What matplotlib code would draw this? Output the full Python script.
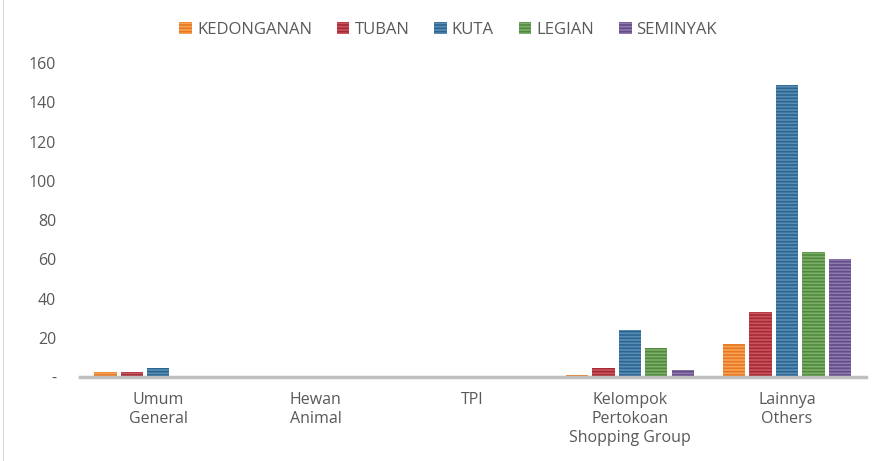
import numpy as np
import matplotlib.pyplot as plt
from matplotlib.patches import Rectangle

categories = ["Umum\nGeneral", "Hewan\nAnimal", "TPI", "Kelompok\nPertokoan\nShopping Group", "Lainnya\nOthers"]
series_names = ["KEDONGANAN", "TUBAN", "KUTA", "LEGIAN", "SEMINYAK"]
kedonganan = [2.5, 0, 0, 1, 17]
tuban = [2.5, 0, 0, 4.5, 33]
kuta = [4.5, 0, 0, 24, 149]
legian = [0.8, 0, 0, 15, 64]
seminyak = [0.8, 0, 0, 3.5, 60]
y_ticks = [0, 20, 40, 60, 80, 100, 120, 140, 160]
y_labels = ["-", "20", "40", "60", "80", "100", "120", "140", "160"]

face = ["#F6A35A", "#C9545E", "#5A8DB5", "#7EAE6C", "#8E7AAE"]
dark = ["#E9771E", "#A52A36", "#2A6591", "#4E8A3A", "#634A88"]

plt.rcParams["font.family"] = ["Open Sans", "DejaVu Sans"]
plt.rcParams["hatch.linewidth"] = 1.2

fig = plt.figure(figsize=(8.86, 4.61), dpi=100)
ax = fig.add_axes([0.09, 0.182, 0.887, 0.681])

x = np.arange(len(categories))
w = 0.142
step = 0.168
values = [kedonganan, tuban, kuta, legian, seminyak]
for i, vals in enumerate(values):
    off = (i - 2) * step
    ax.bar(x + off, vals, width=w, color=face[i], edgecolor=dark[i],
           hatch="-----", linewidth=0, label=series_names[i])

ax.set_xlim(-0.5, len(categories) - 0.5)
ax.set_ylim(0, 160)
ax.set_yticks(y_ticks)
ax.set_yticklabels(y_labels)
ax.set_xticks(x)
ax.set_xticklabels(categories, linespacing=1.25)
ax.tick_params(axis="both", length=0, labelsize=11.5, colors="#595959")
ax.tick_params(axis="y", pad=17)
ax.tick_params(axis="x", pad=11)
for s in ["top", "right", "left"]:
    ax.spines[s].set_visible(False)
ax.spines["bottom"].set_color("#BFBFBF")
ax.spines["bottom"].set_linewidth(2.5)

leg = fig.legend(loc="upper center", bbox_to_anchor=(0.506, 0.985), ncol=5,
                 frameon=False, fontsize=12, handlelength=0.75, handleheight=0.75,
                 handletextpad=0.3, columnspacing=1.5)
for t in leg.get_texts():
    t.set_color("#595959")

fig.add_artist(Rectangle((0.003, 0), 0.0015, 1, transform=fig.transFigure,
                         color="#D9D9D9", lw=0))

fig.savefig("out.png", dpi=100)
